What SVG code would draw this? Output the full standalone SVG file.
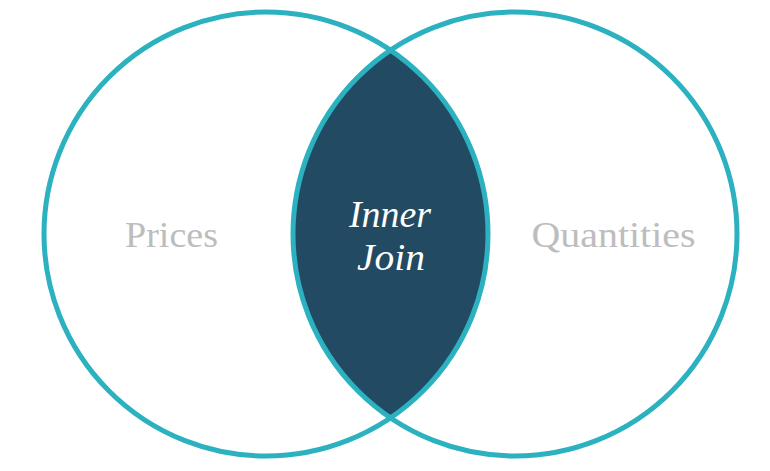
<svg xmlns="http://www.w3.org/2000/svg" width="770" height="471" viewBox="0 0 770 471">
  <style>
    .ring { fill: none; stroke: #2bb1bf; stroke-width: 5; }
    .lens { fill: #224a62; stroke: none; }
    .set-label { font-family: "Liberation Serif", "DejaVu Serif", serif; font-size: 36px; fill: #bdbdbd; text-anchor: middle; }
    .join-label { font-family: "Liberation Serif", "DejaVu Serif", serif; font-style: italic; font-size: 37px; fill: #ffffff; text-anchor: middle; }
  </style>
  <rect width="770" height="471" fill="#ffffff"/>
  <g id="inner-join">
    <path class="lens" d="M 390.5 50.2 A 222 222 0 0 0 390.5 417.8 A 222 222 0 0 0 390.5 50.2 Z"/>
    <text class="join-label" x="390" y="226.5" textLength="82" lengthAdjust="spacingAndGlyphs">Inner</text>
    <text class="join-label" x="391" y="270" textLength="68" lengthAdjust="spacingAndGlyphs">Join</text>
  </g>
  <g id="prices">
    <circle class="ring" cx="266" cy="234" r="222"/>
    <text class="set-label" x="171.5" y="247" textLength="93" lengthAdjust="spacingAndGlyphs">Prices</text>
  </g>
  <g id="quantities">
    <circle class="ring" cx="515" cy="234" r="222"/>
    <text class="set-label" x="613.5" y="247" textLength="164" lengthAdjust="spacingAndGlyphs">Quantities</text>
  </g>
  <g id="connectors"></g>
</svg>
